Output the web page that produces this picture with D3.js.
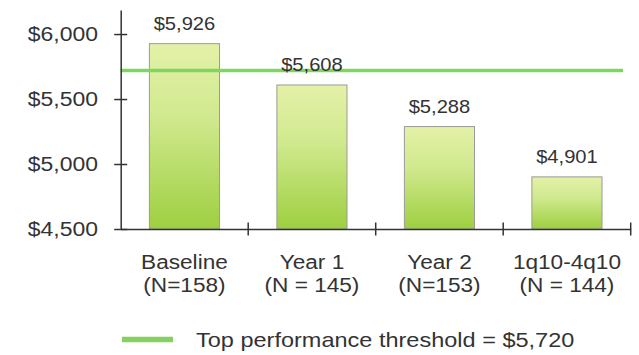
<!DOCTYPE html>
<html>
<head>
<meta charset="utf-8">
<script src="https://cdn.jsdelivr.net/npm/d3@7"></script>
<style>
  html, body { margin: 0; padding: 0; background: #ffffff; }
  svg { display: block; }
  text { font-family: "Liberation Sans", Arial, Helvetica, sans-serif; fill: #333333; }
</style>
</head>
<body>
<svg id="chart" width="639" height="355"></svg>
<script>
// Average cost per period, with sample size under each category
const categories = ["Baseline", "Year 1", "Year 2", "1q10-4q10"];
const sampleSizes = ["(N=158)", "(N = 145)", "(N=153)", "(N = 144)"];
const costs = [5926, 5608, 5288, 4901];
const yTicks = [4500, 5000, 5500, 6000];
const threshold = 5720;
const legendLabel = "Top performance threshold = $5,720";

const svg = d3.select("#chart");
const fmt = d3.format("$,");
const SX = 1.12; // horizontal stretch of the lettering

const x = d3.scaleBand()
  .domain(categories)
  .range([120.7, 630.7])
  .paddingInner(0.45)
  .paddingOuter(0.225);

const y = d3.scaleLinear()
  .domain([4500, 6185])
  .range([229, 10]);

// vertical gradient used for each bar
const defs = svg.append("defs");
const grad = defs.append("linearGradient")
  .attr("id", "barFill")
  .attr("x1", 0).attr("y1", 0).attr("x2", 0).attr("y2", 1);
grad.append("stop").attr("offset", "0%").attr("stop-color", "#e4f1a8");
grad.append("stop").attr("offset", "40%").attr("stop-color", "#d0e98e");
grad.append("stop").attr("offset", "100%").attr("stop-color", "#9ecf40");

// bars
svg.append("g").selectAll("rect")
  .data(costs)
  .join("rect")
  .attr("x", (d, i) => x(categories[i]))
  .attr("y", d => y(d))
  .attr("width", x.bandwidth())
  .attr("height", d => y(4500) - y(d))
  .attr("fill", "url(#barFill)")
  .attr("stroke", "#9a9a9a")
  .attr("stroke-width", 1);

// threshold line
svg.append("line")
  .attr("x1", x.range()[0])
  .attr("x2", 623)
  .attr("y1", y(threshold))
  .attr("y2", y(threshold))
  .attr("stroke", "#7ed65e")
  .attr("stroke-width", 3.5);

// value labels above bars
svg.append("g").selectAll("text")
  .data(costs)
  .join("text")
  .attr("transform", (d, i) =>
    `translate(${x(categories[i]) + x.bandwidth() / 2},${y(d) - 13.5}) scale(${SX},1)`)
  .attr("text-anchor", "middle")
  .attr("font-size", 18)
  .text(d => fmt(d));

// y axis
const yAxis = svg.append("g")
  .attr("transform", `translate(${x.range()[0]},0)`)
  .call(d3.axisLeft(y).tickValues(yTicks).tickFormat(fmt).tickSizeInner(6).tickSizeOuter(0));
yAxis.select(".domain").attr("stroke", "#333").attr("stroke-width", 1.5);
yAxis.selectAll(".tick line").attr("x1", -6.5).attr("x2", 6.5)
  .attr("stroke", "#333").attr("stroke-width", 1.5);
yAxis.selectAll(".tick text")
  .attr("x", null)
  .attr("transform", `translate(-22.7,0) scale(${SX},1)`)
  .attr("font-size", 20.5)
  .attr("font-family", null)
  .attr("fill", "#333");

// x axis with ticks on category boundaries
const xAxis = svg.append("g")
  .attr("transform", `translate(0,${y(4500)})`)
  .call(d3.axisBottom(x).tickSize(0).tickFormat("").tickSizeOuter(0));
xAxis.selectAll(".tick").remove();
xAxis.select(".domain").attr("stroke", "#333").attr("stroke-width", 1.5);
const bounds = d3.range(categories.length + 1).map(i => x.range()[0] + i * x.step());
xAxis.selectAll("line.bound")
  .data(bounds.slice(1))
  .join("line")
  .attr("class", "bound")
  .attr("x1", d => d).attr("x2", d => d)
  .attr("y1", -6.5).attr("y2", 6.5)
  .attr("stroke", "#333").attr("stroke-width", 1.5);

// category labels (two lines)
const CSX = 1.16;
const cat = svg.append("g").selectAll("g")
  .data(categories)
  .join("g")
  .attr("transform", d => `translate(${x(d) + x.bandwidth() / 2},0)`);
cat.append("text")
  .attr("transform", `translate(0,269) scale(${CSX},1)`)
  .attr("text-anchor", "middle")
  .attr("font-size", 19.5)
  .text(d => d);
cat.append("text")
  .attr("transform", `translate(0,291.5) scale(${CSX},1)`)
  .attr("text-anchor", "middle")
  .attr("font-size", 19.5)
  .text((d, i) => sampleSizes[i]);

// legend
const legend = svg.append("g");
legend.append("line")
  .attr("x1", 122).attr("x2", 173)
  .attr("y1", 339.5).attr("y2", 339.5)
  .attr("stroke", "#84d060")
  .attr("stroke-width", 5.5);
legend.append("text")
  .attr("transform", `translate(196,347) scale(${SX},1)`)
  .attr("font-size", 21)
  .text(legendLabel);
</script>
</body>
</html>
